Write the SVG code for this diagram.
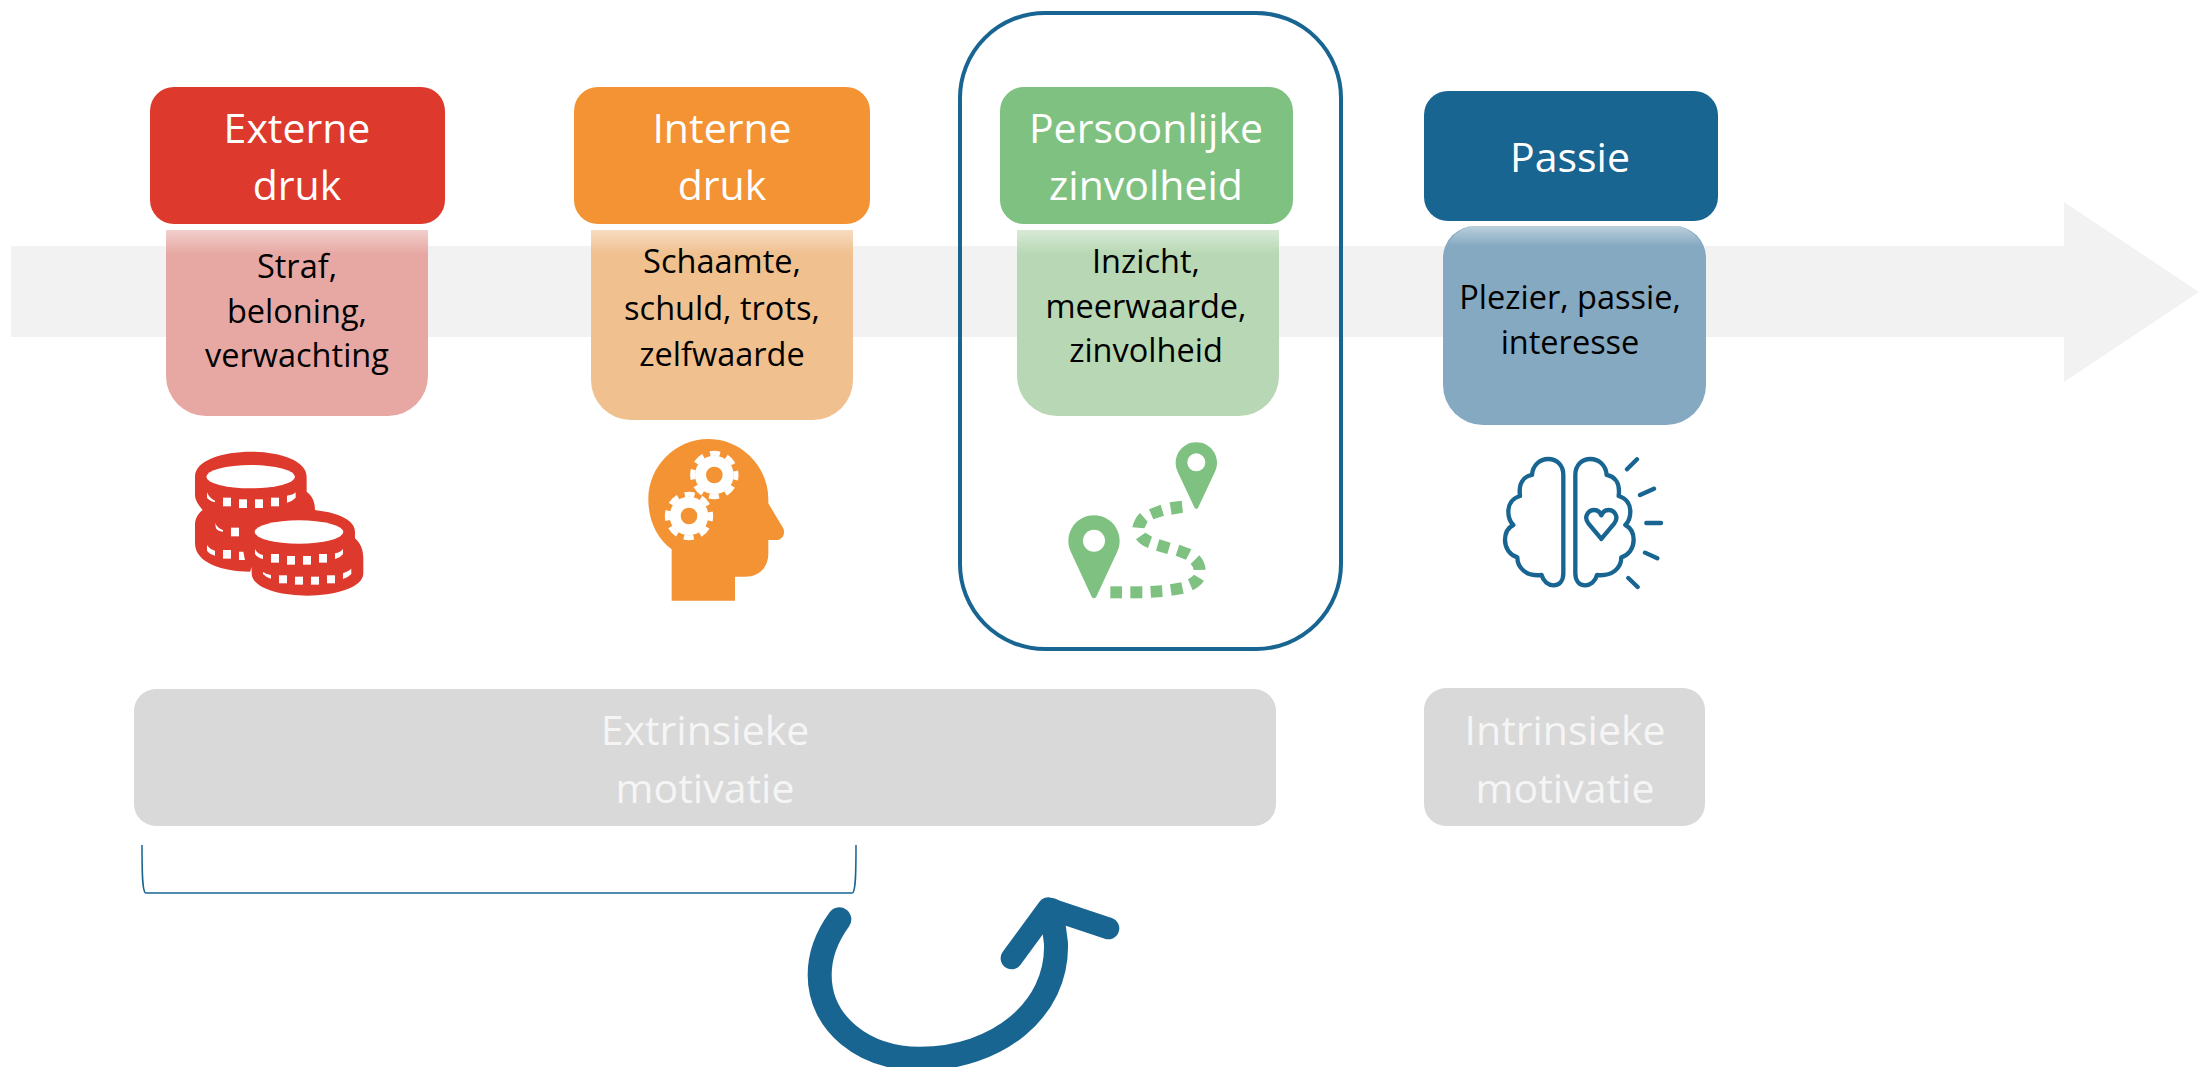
<svg xmlns="http://www.w3.org/2000/svg" width="2199" height="1067" viewBox="0 0 2199 1067">
<style>
text{font-family:"Open Sans","Noto Sans","Liberation Sans",sans-serif;text-anchor:middle}
.h{font-size:41px;fill:#fff}
.s{font-size:32.5px;fill:#000}
.g{font-size:41px;fill:#f5f5f5}
.w{fill:#fff}
.line{fill:none;stroke:#186592;stroke-width:13;stroke-linecap:round;stroke-linejoin:round}
</style>
<defs>
<linearGradient id="fade" x1="0" y1="0" x2="0" y2="1"><stop offset="0" stop-color="#fff" stop-opacity=".45"/><stop offset="1" stop-color="#fff" stop-opacity="0"/></linearGradient>
<g id="gearW"><circle r="58" fill="#fff"/><circle r="65" fill="none" stroke="#fff" stroke-width="15" stroke-dasharray="30 21.05" stroke-dashoffset="15"/></g>
</defs>
<path id="flow-arrow" d="M11 246H2064V202L2199 292L2064 382V337H11Z" fill="#f2f2f2"/>
<g id="frame"><rect x="960" y="13" width="381" height="636" rx="85" fill="none" stroke="#186592" stroke-width="4"/></g>

<g id="node-externe">
<path d="M166 230H428V376A40 40 0 0 1 388 416H206A40 40 0 0 1 166 376Z" fill="#e7a8a3"/>
<rect x="166" y="230" width="262" height="24" fill="url(#fade)"/>
<rect x="150" y="87" width="295" height="137" rx="24" fill="#dd392d"/>
<text class="h" x="297" y="143">Externe</text><text class="h" x="297" y="200">druk</text>
<text class="s" x="297" y="278">Straf,</text><text class="s" x="297" y="323">beloning,</text><text class="s" x="297" y="367">verwachting</text>
</g>
<g id="icon-coins" transform="translate(130 430) scale(.3333)" fill="#dd392d">
<path d="M195 140C195 90 280 65 362 65C445 65 530 90 530 140V185C550 200 555 220 555 240L555 330H400L360 425C280 425 195 400 195 340V285C195 265 205 250 218 240C205 225 195 210 195 195Z"/>
<g class="w">
<path d="M231 187Q238 205 255 212V217Q238 212 231 203Z"/><rect x="279" y="203" width="24" height="26"/><rect x="327" y="208" width="24" height="26"/><rect x="375" y="208" width="24" height="26"/><rect x="423" y="203" width="24" height="26"/><path d="M471 197Q490 195 497 187V203Q488 213 471 218Z"/>
<path d="M255 278Q262 295 279 300V305Q262 303 258 295Z"/><rect x="303" y="293" width="24" height="26"/>
<path d="M231 345Q238 357 255 362V377Q238 372 231 362Z"/><rect x="279" y="360" width="24" height="26"/><path d="M327 365H340L345 390H327Z"/>
<ellipse cx="362" cy="140" rx="133" ry="35"/>
</g>
<path d="M340 305C340 260 425 238 507 238C590 238 675 260 675 305V325C692 340 700 360 700 385V430C700 475 610 497 532 497C450 497 365 475 365 430V395C350 380 340 365 340 350Z"/>
<g class="w">
<path d="M375 357Q382 372 399 375V387Q382 383 375 372Z"/><rect x="423" y="372" width="24" height="26"/><rect x="471" y="378" width="24" height="26"/><rect x="519" y="378" width="24" height="26"/><rect x="567" y="372" width="24" height="26"/><path d="M615 370Q632 367 639 357V372Q632 382 615 387Z"/>
<path d="M399 426Q410 433 423 435V446Q408 442 399 432Z"/><rect x="447" y="436" width="24" height="24"/><rect x="495" y="440" width="24" height="24"/><rect x="543" y="440" width="24" height="24"/><rect x="591" y="436" width="24" height="24"/><path d="M639 430Q655 425 664 416V432Q655 442 639 447Z"/>
<ellipse cx="507" cy="306" rx="133" ry="35"/>
</g>
</g>

<g id="node-interne">
<path d="M591 230H853V380A40 40 0 0 1 813 420H631A40 40 0 0 1 591 380Z" fill="#f0c08f"/>
<rect x="591" y="230" width="262" height="24" fill="url(#fade)"/>
<rect x="574" y="87" width="296" height="137" rx="24" fill="#f39333"/>
<text class="h" x="722" y="143">Interne</text><text class="h" x="722" y="200">druk</text>
<text class="s" x="722" y="273">Schaamte,</text><text class="s" x="722" y="320">schuld, trots,</text><text class="s" x="722" y="366">zelfwaarde</text>
</g>
<g id="icon-head" transform="translate(620 420) scale(.3333)">
<path d="M155 542V388C110 355 85 300 85 238C85 140 165 57 265 57C365 57 445 140 445 237V250L488 322C500 342 485 360 470 360H445V400C445 445 415 470 375 470H345V542Z" fill="#f39333"/>
<use href="#gearW" x="283" y="165"/><circle cx="283" cy="165" r="25" fill="#f39333"/>
<use href="#gearW" x="207" y="288"/><circle cx="207" cy="288" r="25" fill="#f39333"/>
</g>

<g id="node-persoonlijke">
<path d="M1017 230H1279V376A40 40 0 0 1 1239 416H1057A40 40 0 0 1 1017 376Z" fill="#b8d8b5"/>
<rect x="1017" y="230" width="262" height="24" fill="url(#fade)"/>
<rect x="1000" y="87" width="293" height="137" rx="24" fill="#7fc180"/>
<text class="h" x="1146" y="143">Persoonlijke</text><text class="h" x="1146" y="200">zinvolheid</text>
<text class="s" x="1146" y="273">Inzicht,</text><text class="s" x="1146" y="318">meerwaarde,</text><text class="s" x="1146" y="362">zinvolheid</text>
</g>
<g id="icon-route" transform="translate(1040 420) scale(.3333)" fill="#7fc180">
<path d="M155 530L93 397A77 77 0 1 1 231 397L169 530Q162 540 155 530Z"/><circle cx="162" cy="362" r="33" class="w"/>
<path d="M463 262L413 155A62 62 0 1 1 525 155L475 262Q469 272 463 262Z"/><circle cx="469" cy="127" r="27" class="w"/>
<path d="M211 499H246V535H211Z"/><path d="M271 499H307V535H271Z"/><path d="M331 498L366 496L368 531L333 533Z"/><path d="M390 493L424 487L431 521L395 527Z"/><path d="M462 464L492 482Q480 500 458 511L444 478Q455 472 462 464Z"/><path d="M452 432L478 406Q495 425 497 449L461 450Q460 440 452 432Z"/><path d="M418 374L454 388L438 419L407 407Z"/><path d="M358 358L392 368L382 402L348 392Z"/><path d="M316 338L336 350L324 384Q300 375 288 358Z"/><path d="M300 279L323 305L313 325L277 322Q283 295 300 279Z"/><path d="M327 268L362 254L372 287L340 298Z"/><path d="M389 247L425 242L429 278L395 284Z"/>
</g>

<g id="node-passie">
<path d="M1443 258A32 32 0 0 1 1475 226H1674A32 32 0 0 1 1706 258V385A40 40 0 0 1 1666 425H1483A40 40 0 0 1 1443 385Z" fill="#85a9c1"/>
<path d="M1447 246A32 32 0 0 1 1475 226H1674A32 32 0 0 1 1702 246Z" fill="url(#fade)"/>
<rect x="1424" y="91" width="294" height="130" rx="24" fill="#186592"/>
<text class="h" x="1570" y="172">Passie</text>
<text class="s" x="1570" y="309">Plezier, passie,</text><text class="s" x="1570" y="354">interesse</text>
</g>
<g id="icon-brain" transform="translate(1480 440) scale(.3333)" class="line">
<path id="brain-half" d="M250 105C250 75 230 57 205 57C180 57 158 75 156 105C130 110 115 130 120 168C95 175 85 195 85 215C85 235 95 250 100 255C80 265 75 285 75 300C75 325 90 345 112 352C112 385 140 410 185 405C190 425 205 436 220 436C240 436 250 420 250 400Z"/>
<path d="M286 105C286 75 306 57 331 57C356 57 378 75 380 105C406 110 421 130 416 168C441 175 451 195 451 215C451 235 441 250 436 255C456 265 461 285 461 300C461 325 446 345 424 352C424 385 396 410 351 405C346 425 331 436 316 436C296 436 286 420 286 400Z"/>
<path d="M364 297L325 250C310 230 325 210 342 210C352 210 360 216 364 226C368 216 376 210 386 210C403 210 418 230 403 250Z"/>
<path d="M441 88L471 58M480 165L522 146M499 249L543 249M495 338L532 355M445 414L473 441"/>
</g>

<g id="node-extrinsiek">
<rect x="134" y="689" width="1142" height="137" rx="22" fill="#d9d9d9"/>
<text class="g" x="705" y="745">Extrinsieke</text><text class="g" x="705" y="803">motivatie</text>
</g>
<g id="node-intrinsiek">
<rect x="1424" y="688" width="281" height="138" rx="22" fill="#d9d9d9"/>
<text class="g" x="1565" y="745">Intrinsieke</text><text class="g" x="1565" y="803">motivatie</text>
</g>

<g id="connectors" fill="none">
<path d="M142 845C142 870 142 893 146 893H852C856 893 856 870 856 845" stroke="#186592" stroke-width="1.5"/>
<g transform="translate(780 870) scale(.3333)" stroke="#186592" stroke-linecap="round" stroke-linejoin="round">
<path d="M178 148C140 200 119 255 119 315C119 460 250 566 420 566C650 566 835 420 828 220L815 120" stroke-width="72"/>
<path d="M695 265L805 115L985 175" stroke-width="66"/>
</g>
</g>
</svg>
